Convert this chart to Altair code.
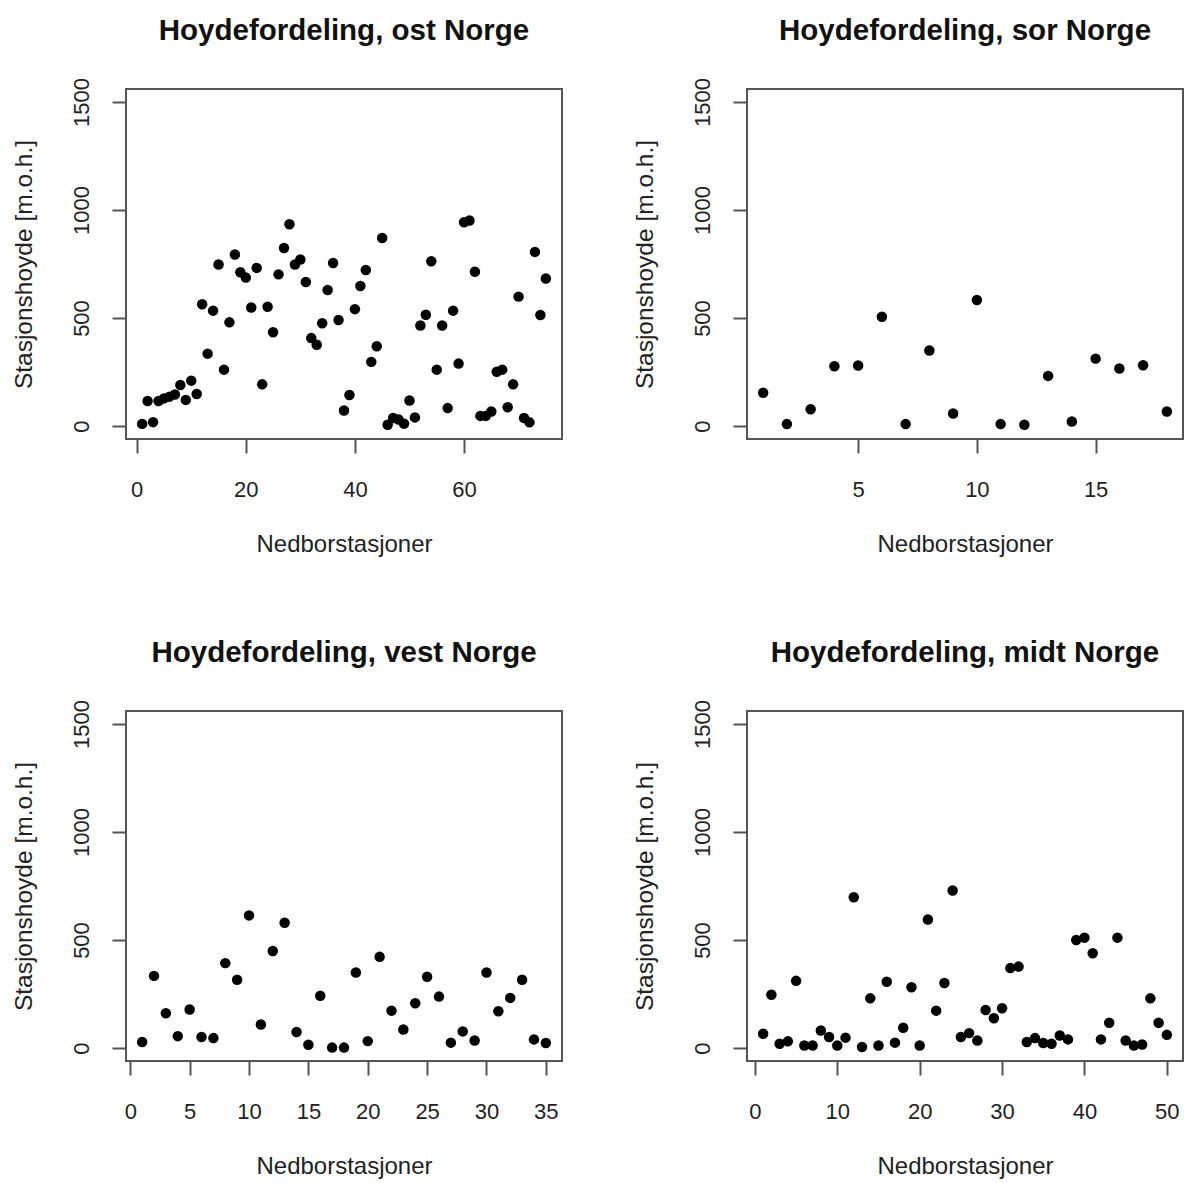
import altair as alt
import pandas as pd

# Station heights (m.o.h.), station index = position
ost = [10, 116, 18, 116, 128, 136, 146, 190, 121, 210,
       148, 564, 335, 534, 748, 261, 480, 794, 712, 687,
       549, 732, 193, 552, 434, 702, 824, 934, 748, 771,
       667, 407, 376, 476, 630, 755, 491, 72, 144, 541,
       648, 722, 297, 369, 870, 6, 37, 30, 11, 118,
       40, 465, 515, 763, 261, 465, 83, 534, 289, 943,
       951, 714, 47, 47, 67, 251, 261, 87, 193, 599,
       37, 17, 806, 514, 683]
sor = [154, 9, 78, 277, 280, 506, 9, 350, 58, 583,
       9, 6, 232, 21, 312, 266, 281, 67]
vest = [28, 334, 161, 55, 178, 51, 46, 393, 316, 614,
        109, 449, 580, 74, 15, 242, 2, 2, 350, 32,
        422, 173, 86, 207, 330, 238, 25, 77, 35, 350,
        170, 232, 316, 40, 23]
midt = [66, 247, 20, 31, 311, 12, 12, 81, 51, 12,
        48, 698, 5, 230, 12, 307, 25, 94, 281, 12,
        595, 173, 301, 729, 51, 69, 35, 176, 138, 184,
        370, 377, 28, 46, 23, 20, 58, 40, 500, 511,
        439, 40, 117, 511, 35, 12, 16, 230, 117, 61]

titles = ["Hoydefordeling, ost Norge", "Hoydefordeling, sor Norge",
          "Hoydefordeling, vest Norge", "Hoydefordeling, midt Norge"]
x_ticks = [[0, 20, 40, 60], [5, 10, 15],
           [0, 5, 10, 15, 20, 25, 30, 35], [0, 10, 20, 30, 40, 50]]
y_ticks = [0, 500, 1000, 1500]
y_range = [0, 1500]
x_title = "Nedborstasjoner"
y_title = "Stasjonshoyde [m.o.h.]"

FONT = "Liberation Sans"
W, H = 436, 350


def panel(vals, title, ticks):
    n = len(vals)
    df = pd.DataFrame({"station": list(range(1, n + 1)), "hoyde": vals})
    px = 0.04 * (n - 1)
    py = 0.04 * (y_range[1] - y_range[0])
    return alt.Chart(df).mark_circle(size=110, color="black", opacity=1).encode(
        x=alt.X("station:Q",
                scale=alt.Scale(domain=[1 - px, n + px], nice=False, zero=False),
                axis=alt.Axis(values=ticks, format="d", title=x_title, grid=False, domain=False,
                              tickSize=14, tickWidth=2, tickColor="#555555",
                              labelFontSize=22, labelFont=FONT, labelColor="#222222",
                              labelBaseline="alphabetic", labelPadding=43,
                              labelOverlap=False, labelFlush=False,
                              titleFontSize=24, titleFont=FONT, titleFontWeight="normal",
                              titleColor="#222222", titleBaseline="alphabetic",
                              titleY=112)),
        y=alt.Y("hoyde:Q",
                scale=alt.Scale(domain=[y_range[0] - py, y_range[1] + py], nice=False, zero=False),
                axis=alt.Axis(values=y_ticks, format="d", title=y_title, grid=False, domain=False,
                              tickSize=14, tickWidth=2, tickColor="#555555",
                              labelFontSize=22, labelFont=FONT, labelColor="#222222",
                              labelAngle=-90, labelAlign="center", labelBaseline="alphabetic",
                              labelPadding=24, labelOverlap=False, labelFlush=False,
                              titleFontSize=24.5, titleFont=FONT, titleFontWeight="normal",
                              titleColor="#222222", titleAngle=-90, titleAlign="center",
                              titleBaseline="alphabetic", titleX=-95, titleY=H / 2)),
    ).properties(
        width=W, height=H,
        title=alt.TitleParams(title, fontSize=29.5, font=FONT, fontWeight="bold",
                              color="#111111", anchor="middle", frame="group",
                              baseline="alphabetic", offset=8),
    )


panels = [panel(v, t, k) for v, t, k in zip([ost, sor, vest, midt], titles, x_ticks)]

chart = alt.vconcat(
    alt.hconcat(panels[0], panels[1], spacing=68),
    alt.hconcat(panels[2], panels[3], spacing=68),
    spacing=79,
).properties(
    padding={"left": 2, "top": 6, "right": 0, "bottom": 0}
).configure(
    background="white",
    view=alt.ViewConfig(stroke="#555555", strokeWidth=2),
)

chart.save("out.html", embed_options={"renderer": "svg", "actions": False})
